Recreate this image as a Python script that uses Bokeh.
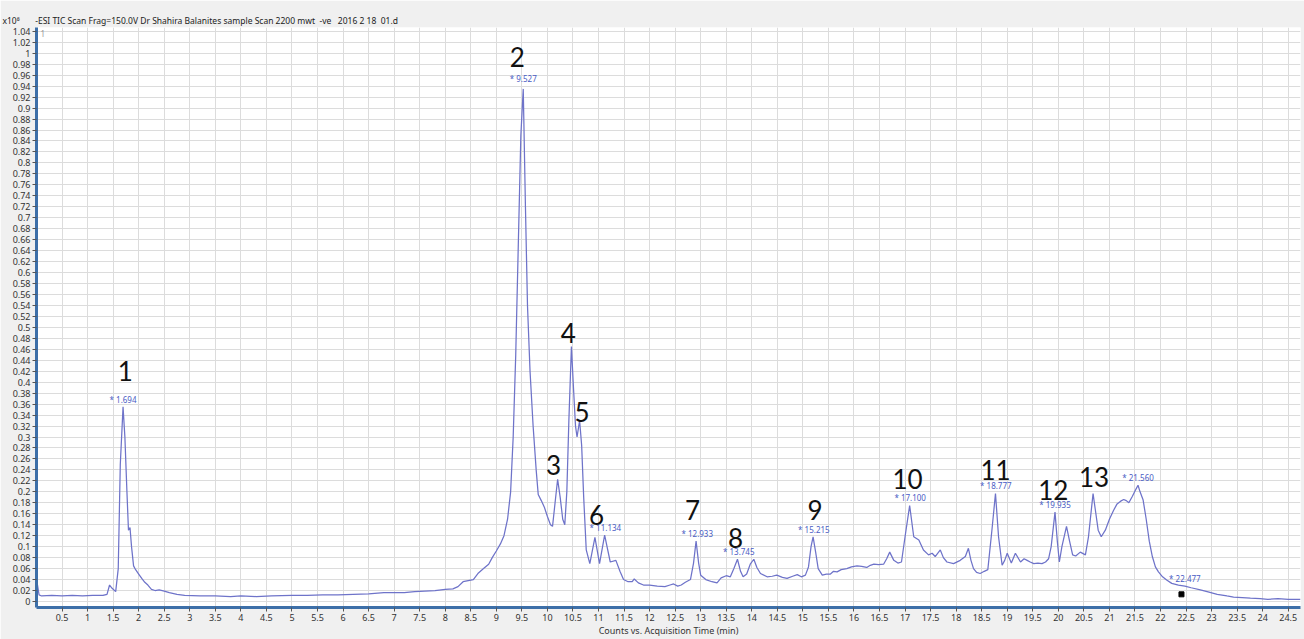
from bokeh.plotting import figure
from bokeh.models import FixedTicker, Label, ColumnDataSource, Title
from bokeh.core.properties import value
from bokeh.embed import file_html
from bokeh.resources import INLINE

# ---------------- data ----------------
header_text = "-ESI TIC Scan Frag=150.0V Dr Shahira Balanites sample Scan 2200 mwt \u00a0-ve \u00a0\u00a02016 2 18 \u00a001.d"
x_axis_title = "Counts vs. Acquisition Time (min)"
scale_text = "x10\u2078"

time_min = [
    0.00, 0.02, 0.05, 0.10, 0.30, 0.50, 0.70, 0.90, 1.10, 1.30, 1.38, 1.43, 1.48, 1.55,
    1.60, 1.64, 1.694, 1.73, 1.77, 1.80, 1.83, 1.86, 1.90, 1.94, 2.00, 2.06, 2.12, 2.18,
    2.25, 2.32, 2.40, 2.50, 2.60, 2.75, 2.90, 3.20, 3.50, 3.80, 4.00, 4.30, 4.60, 5.00,
    5.30, 5.60, 5.90, 6.20, 6.50, 6.80, 7.00, 7.20, 7.40, 7.60, 7.80, 8.00, 8.15, 8.25,
    8.35, 8.45, 8.55, 8.65, 8.75, 8.85, 8.92, 9.00, 9.08, 9.15, 9.22, 9.28, 9.33, 9.38,
    9.43, 9.48, 9.527, 9.57, 9.61, 9.66, 9.72, 9.78, 9.82, 9.88, 9.94, 10.00, 10.06, 10.10,
    10.15, 10.20, 10.25, 10.30, 10.34, 10.38, 10.42, 10.47, 10.51, 10.55, 10.58, 10.63,
    10.67, 10.71, 10.76, 10.83, 10.93, 11.02, 11.12, 11.23, 11.34, 11.42, 11.49, 11.58,
    11.66, 11.70, 11.78, 11.88, 12.00, 12.15, 12.30, 12.40, 12.47, 12.55, 12.62, 12.70,
    12.80, 12.86, 12.91, 12.96, 13.00, 13.10, 13.22, 13.32, 13.40, 13.50, 13.58, 13.65,
    13.72, 13.78, 13.83, 13.90, 13.97, 14.04, 14.10, 14.17, 14.30, 14.40, 14.49, 14.60,
    14.69, 14.80, 14.89, 14.97, 15.05, 15.11, 15.16, 15.20, 15.25, 15.30, 15.38, 15.46,
    15.54, 15.60, 15.67, 15.75, 15.86, 15.95, 16.06, 16.15, 16.25, 16.32, 16.39, 16.48,
    16.58, 16.64, 16.70, 16.78, 16.86, 16.93, 17.00, 17.09, 17.17, 17.27, 17.36, 17.46,
    17.53, 17.59, 17.69, 17.75, 17.82, 17.95, 18.08, 18.18, 18.24, 18.29, 18.34, 18.40,
    18.47, 18.55, 18.62, 18.70, 18.77, 18.83, 18.90, 18.95, 19.00, 19.08, 19.16, 19.26,
    19.33, 19.39, 19.45, 19.52, 19.60, 19.68, 19.75, 19.81, 19.86, 19.935, 19.98, 20.02,
    20.07, 20.16, 20.22, 20.28, 20.34, 20.43, 20.53, 20.59, 20.68, 20.72, 20.78, 20.84,
    20.92, 21.00, 21.08, 21.15, 21.22, 21.28, 21.33, 21.38, 21.45, 21.52, 21.56, 21.60,
    21.66, 21.72, 21.78, 21.84, 21.90, 21.96, 22.04, 22.12, 22.22, 22.35, 22.477, 22.60,
    22.78, 22.95, 23.11, 23.30, 23.43, 23.60, 23.76, 23.95, 24.10, 24.30, 24.50, 24.74,
]
counts_e8 = [
    0.040, 0.030, 0.012, 0.010, 0.011, 0.010, 0.011, 0.010, 0.011, 0.011, 0.013, 0.030, 0.024, 0.018,
    0.060, 0.250, 0.355, 0.300, 0.200, 0.130, 0.135, 0.100, 0.065, 0.058, 0.050, 0.042, 0.035, 0.030,
    0.022, 0.020, 0.021, 0.019, 0.016, 0.013, 0.011, 0.010, 0.010, 0.009, 0.010, 0.009, 0.010, 0.011,
    0.011, 0.012, 0.012, 0.013, 0.014, 0.016, 0.016, 0.016, 0.018, 0.019, 0.020, 0.022, 0.023, 0.027,
    0.036, 0.038, 0.040, 0.052, 0.060, 0.068, 0.080, 0.092, 0.105, 0.120, 0.150, 0.200, 0.300, 0.450,
    0.650, 0.850, 0.935, 0.720, 0.540, 0.420, 0.320, 0.240, 0.195, 0.184, 0.172, 0.155, 0.140, 0.137,
    0.180, 0.223, 0.190, 0.150, 0.140, 0.200, 0.330, 0.465, 0.390, 0.320, 0.300, 0.330,
    0.285, 0.190, 0.094, 0.069, 0.117, 0.069, 0.121, 0.072, 0.075, 0.055, 0.040, 0.036,
    0.036, 0.041, 0.034, 0.030, 0.030, 0.028, 0.027, 0.030, 0.032, 0.028, 0.030, 0.035,
    0.040, 0.070, 0.110, 0.070, 0.048, 0.040, 0.036, 0.034, 0.043, 0.047, 0.045, 0.060,
    0.077, 0.055, 0.045, 0.050, 0.068, 0.077, 0.062, 0.051, 0.045, 0.046, 0.048, 0.044,
    0.042, 0.046, 0.049, 0.045, 0.048, 0.063, 0.100, 0.118, 0.090, 0.060, 0.048, 0.050,
    0.050, 0.055, 0.054, 0.058, 0.060, 0.063, 0.065, 0.064, 0.062, 0.066, 0.068, 0.067,
    0.068, 0.078, 0.090, 0.075, 0.070, 0.072, 0.118, 0.175, 0.118, 0.112, 0.094, 0.085,
    0.088, 0.082, 0.094, 0.080, 0.072, 0.069, 0.075, 0.082, 0.097, 0.075, 0.060, 0.053,
    0.051, 0.055, 0.058, 0.130, 0.197, 0.118, 0.066, 0.075, 0.088, 0.070, 0.088, 0.072,
    0.078, 0.075, 0.072, 0.069, 0.070, 0.069, 0.072, 0.078, 0.100, 0.163, 0.110, 0.072,
    0.100, 0.137, 0.110, 0.085, 0.083, 0.090, 0.085, 0.118, 0.197, 0.170, 0.130, 0.118,
    0.130, 0.150, 0.166, 0.178, 0.183, 0.186, 0.184, 0.180, 0.192, 0.205, 0.212, 0.200,
    0.185, 0.150, 0.110, 0.082, 0.063, 0.054, 0.045, 0.039, 0.033, 0.030, 0.028, 0.025,
    0.021, 0.017, 0.013, 0.010, 0.008, 0.007, 0.006, 0.005, 0.004, 0.005, 0.004, 0.004,
]

# retention-time annotations (blue)
rt_labels = ["* 1.694", "* 9.527", "* 11.134", "* 12.933", "* 13.745", "* 15.215",
             "* 17.100", "* 18.777", "* 19.935", "* 21.560", "* 22.477"]
rt_times = [1.694, 9.527, 11.134, 12.933, 13.745, 15.215, 17.100, 18.777, 19.935, 21.560, 22.477]
rt_levels = [0.357, 0.942, 0.123, 0.112, 0.079, 0.120, 0.177, 0.199, 0.165, 0.214, 0.030]

# peak numbers (black)
peak_numbers = ["1", "2", "3", "4", "5", "6", "7", "8", "9", "10", "11", "12", "13"]
peak_num_x = [1.74, 9.41, 10.12, 10.41, 10.68, 10.96, 12.84, 13.68, 15.24, 17.05, 18.77, 19.90, 20.70]
peak_num_y = [0.420, 0.993, 0.249, 0.490, 0.345, 0.158, 0.167, 0.115, 0.167, 0.224, 0.240, 0.203, 0.227]

x_tick_labels = ["0.5", "1", "1.5", "2", "2.5", "3", "3.5", "4", "4.5", "5", "5.5", "6", "6.5",
                 "7", "7.5", "8", "8.5", "9", "9.5", "10", "10.5", "11", "11.5", "12", "12.5",
                 "13", "13.5", "14", "14.5", "15", "15.5", "16", "16.5", "17", "17.5", "18",
                 "18.5", "19", "19.5", "20", "20.5", "21", "21.5", "22", "22.5", "23", "23.5",
                 "24", "24.5"]
y_tick_labels = ["0", "0.02", "0.04", "0.06", "0.08", "0.1", "0.12", "0.14", "0.16", "0.18",
                 "0.2", "0.22", "0.24", "0.26", "0.28", "0.3", "0.32", "0.34", "0.36", "0.38",
                 "0.4", "0.42", "0.44", "0.46", "0.48", "0.5", "0.52", "0.54", "0.56", "0.58",
                 "0.6", "0.62", "0.64", "0.66", "0.68", "0.7", "0.72", "0.74", "0.76", "0.78",
                 "0.8", "0.82", "0.84", "0.86", "0.88", "0.9", "0.92", "0.94", "0.96", "0.98",
                 "1", "1.02", "1.04"]

marker_x = [22.41]
marker_y = [0.013]

# ---------------- figure ----------------
X0, X1 = 0.0, 24.74
Y0, Y1 = -0.011, 1.047

p = figure(width=1304, height=639, x_range=(X0, X1), y_range=(Y0, Y1),
           output_backend="svg", toolbar_location=None,
           min_border_left=36, min_border_right=4, min_border_top=27, min_border_bottom=28)

p.background_fill_color = "white"
p.border_fill_color = "#f0f0f0"
p.outline_line_color = None

# outermost (top) title is an empty spacer
p.title.text = "\u00a0"
p.title.text_font_size = "5px"
p.title.standoff = 1

# header (scale factor + acquisition description), closest to the frame
header = Title(text=scale_text + "\u00a0" * 7 + header_text, align="left", offset=-34,
               standoff=4, text_font="Noto Sans", text_font_size="8.5px",
               text_font_style="normal", text_color="#222222")
p.add_layout(header, "above")

x_ticks = [float(s) for s in x_tick_labels]
y_ticks = [float(s) for s in y_tick_labels]
x_grid_ticks = [0.0] + x_ticks

p.xaxis.ticker = FixedTicker(ticks=x_ticks)
p.yaxis.ticker = FixedTicker(ticks=y_ticks)
p.xaxis.major_label_overrides = {t: s for t, s in zip(x_ticks, x_tick_labels)}
p.yaxis.major_label_overrides = {t: s for t, s in zip(y_ticks, y_tick_labels)}
p.xgrid.ticker = FixedTicker(ticks=x_grid_ticks)
p.ygrid.ticker = FixedTicker(ticks=y_ticks)
p.grid.grid_line_color = "#dcdcdc"
p.grid.grid_line_width = 1

for ax in (p.xaxis, p.yaxis):
    ax.axis_line_color = "#3d6fa8"
    ax.axis_line_width = 3
    ax.major_tick_line_color = "#555555"
    ax.major_tick_in = 0
    ax.major_tick_out = 4
    ax.minor_tick_line_color = None
    ax.major_label_text_font = "Noto Sans"
    ax.major_label_text_font_size = "9px"
    ax.major_label_text_color = "#333333"
    ax.major_label_standoff = 2

p.xaxis.axis_label = x_axis_title
p.xaxis.axis_label_text_font = "Noto Sans"
p.xaxis.axis_label_text_font_size = "9px"
p.xaxis.axis_label_text_font_style = "normal"
p.xaxis.axis_label_text_color = "#333333"
p.xaxis.axis_label_standoff = 0

# trace
p.line(time_min, counts_e8, line_color="#6e73c9", line_width=1.25)

# marker square
p.scatter(marker_x, marker_y, marker="square", size=5, fill_color="black", line_color="black")

# retention-time labels
rt_src = ColumnDataSource(dict(x=rt_times, y=rt_levels, t=rt_labels))
p.text(x="x", y="y", text="t", source=rt_src, text_font=value("Noto Sans"),
       text_font_size="8px", text_color="#4a5cc4", text_align="center",
       text_baseline="bottom", y_offset=-1)

# peak numbers
pk_src = ColumnDataSource(dict(x=peak_num_x, y=peak_num_y, t=peak_numbers))
p.text(x="x", y="y", text="t", source=pk_src, text_font=value("Lato"),
       text_font_size="26px", text_color="#111111", text_align="center",
       text_baseline="middle")

# small trace index inside frame
px_per_min = 1264.0 / (X1 - X0)
px_per_unit = 584.0 / (Y1 - Y0)
p.add_layout(Label(x=4 / px_per_min, y=Y1 - 6 / px_per_unit, text="1",
                   text_font="Noto Sans", text_font_size="8px", text_color="#999999",
                   text_align="left", text_baseline="middle"))

open("out.html", "w").write(file_html(p, INLINE))
